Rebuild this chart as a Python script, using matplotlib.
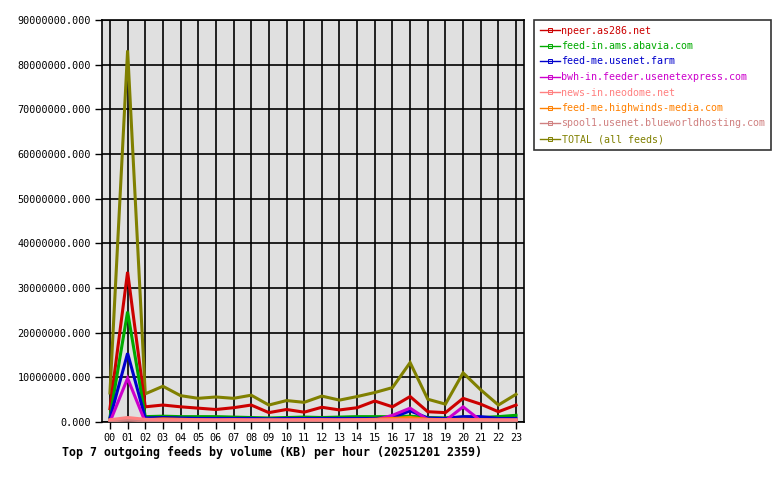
import numpy as np
import matplotlib
matplotlib.use('agg')
import matplotlib.pyplot as plt
from matplotlib.ticker import FuncFormatter

hours = ['%02d' % h for h in range(24)]

feeds = ['npeer.as286.net', 'feed-in.ams.abavia.com', 'feed-me.usenet.farm',
         'bwh-in.feeder.usenetexpress.com', 'news-in.neodome.net',
         'feed-me.highwinds-media.com', 'spool1.usenet.blueworldhosting.com',
         'TOTAL (all feeds)']
colors = ['#cc0000', '#00aa00', '#0000cc', '#cc00cc', '#ff8080',
          '#ff8000', '#d08080', '#808000']

# values in KB (millions)
npeer = [3.0, 33.6, 3.4, 3.8, 3.4, 3.1, 2.8, 3.2, 3.8, 2.1, 2.8, 2.2,
         3.3, 2.7, 3.2, 4.7, 3.4, 5.7, 2.3, 2.1, 5.3, 4.0, 2.3, 3.8]
abavia = [1.0, 24.7, 1.2, 1.3, 1.2, 1.2, 1.2, 1.1, 1.0, 0.9, 1.0, 1.1,
          1.0, 1.1, 1.2, 1.2, 1.2, 1.3, 1.0, 0.9, 1.1, 1.0, 1.2, 1.5]
usenetfarm = [0.8, 15.4, 0.9, 1.0, 0.9, 0.8, 0.8, 0.8, 0.8, 0.7, 0.8, 0.8,
              0.8, 0.8, 0.8, 0.8, 1.0, 2.5, 0.9, 0.8, 1.2, 1.2, 0.8, 0.8]
usenetexpress = [0.0, 9.8, 0.0, 0.1, 0.1, 0.1, 0.1, 0.1, 0.1, 0.1, 0.1, 0.1,
                 0.1, 0.1, 0.2, 0.4, 1.5, 3.1, 0.5, 0.3, 3.4, 0.3, 0.2, 0.2]
neodome = [0.5, 1.0, 0.6, 0.5, 0.5, 0.5, 0.5, 0.5, 0.5, 0.5, 0.5, 0.5,
           0.5, 0.5, 0.5, 0.5, 0.5, 0.5, 0.5, 0.5, 0.5, 0.5, 0.5, 0.5]
highwinds = [0.4, 0.6, 0.5, 0.7, 0.6, 0.5, 0.4, 0.5, 0.4, 0.4, 0.4, 0.5,
             0.5, 0.4, 0.5, 0.6, 0.8, 1.0, 0.6, 0.5, 0.6, 0.5, 0.4, 0.4]
spool1 = [0.3, 0.4, 0.3, 0.3, 0.3, 0.3, 0.3, 0.3, 0.3, 0.3, 0.3, 0.3,
          0.3, 0.3, 0.3, 0.3, 0.3, 0.3, 0.3, 0.3, 0.3, 0.3, 0.3, 0.3]
total = [6.5, 83.2, 6.3, 8.0, 5.9, 5.3, 5.6, 5.3, 6.0, 3.8, 4.8, 4.4,
         5.8, 4.9, 5.7, 6.6, 7.7, 13.3, 5.1, 4.0, 11.0, 7.2, 3.8, 6.2]

series = [npeer, abavia, usenetfarm, usenetexpress, neodome, highwinds, spool1, total]

plt.rcParams['font.family'] = ['DejaVu Sans Mono']

fig = plt.figure(figsize=(7.8, 4.8), dpi=100)
ax = fig.add_axes([102 / 780, 58 / 480, 422 / 780, 402 / 480])
ax.set_facecolor('#e0e0e0')

x = np.arange(len(hours))
# total underneath, then the feeds
order = [7, 0, 1, 2, 3, 5, 6, 4]
for i in order:
    vals = np.array(series[i]) * 1e6
    ax.plot(x, vals, color=colors[i], lw=2.2, solid_joinstyle='miter', zorder=3)

ax.set_xlim(-0.45, 23.45)
ax.set_ylim(0, 90e6)
ax.set_xticks(x)
ax.set_xticklabels(hours)
ax.set_yticks(np.arange(0, 90e6 + 1, 10e6))
ax.yaxis.set_major_formatter(FuncFormatter(lambda v, p: '%.3f' % v))
ax.tick_params(labelsize=7.3, length=5, width=1, color='black', pad=3)
ax.grid(True, color='black', lw=1.2, zorder=1)
ax.set_axisbelow(True)
for s in ax.spines.values():
    s.set_linewidth(1.2)

leg_handles = []
for i in range(len(feeds)):
    h, = ax.plot([], [], color=colors[i], lw=1.0, marker='s', markersize=2.5,
                 markerfacecolor='none', markeredgewidth=0.7)
    leg_handles.append(h)
leg = fig.legend(leg_handles, feeds, loc='upper left',
                 bbox_to_anchor=(534 / 780, 1 - 20 / 480), fontsize=7.2,
                 frameon=True, fancybox=False, edgecolor='black',
                 handlelength=2.0, handletextpad=0.2, labelspacing=0.55,
                 borderpad=0.55, borderaxespad=0)
leg.get_frame().set_linewidth(1.2)
for t, c in zip(leg.get_texts(), colors):
    t.set_color(c)

fig.text(62 / 780, 1 - 452 / 480,
         'Top 7 outgoing feeds by volume (KB) per hour (20251201 2359)',
         fontsize=8.4, fontweight='bold', va='center', ha='left')

fig.savefig('out.png', dpi=100)
